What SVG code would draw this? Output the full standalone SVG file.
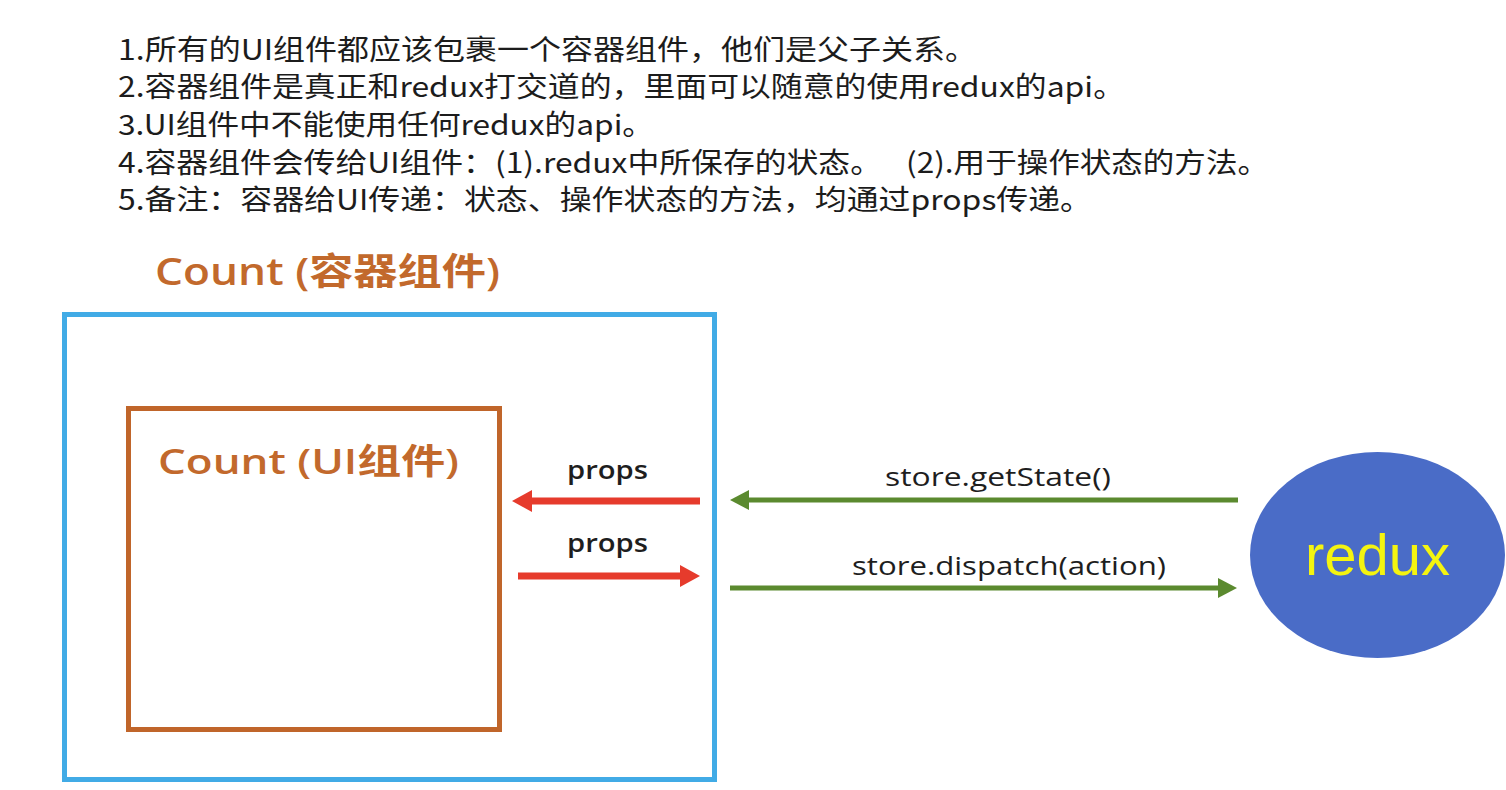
<svg xmlns="http://www.w3.org/2000/svg" width="1506" height="790" viewBox="0 0 1506 790">
<defs>
<style>
.note{font-family:"Noto Sans CJK SC","Liberation Sans",sans-serif;font-size:28px;fill:#1c1c1c;}
.title{font-family:"Open Sans","Noto Sans CJK SC",sans-serif;font-weight:600;fill:#C2692C;}
.lbl{font-family:"Open Sans","Noto Sans CJK SC",sans-serif;font-size:26px;fill:#1e1e1e;}
.red{stroke:#E63B2C;stroke-width:7;fill:none;}
.green{stroke:#5B8A2F;stroke-width:5;fill:none;}
</style>
<marker id="headRed" markerUnits="userSpaceOnUse" markerWidth="20" markerHeight="22" refX="0" refY="11" orient="auto">
<path d="M0,0 L20,11 L0,22 z" fill="#E63B2C"/>
</marker>
<marker id="headGreen" markerUnits="userSpaceOnUse" markerWidth="19" markerHeight="20" refX="0" refY="10" orient="auto">
<path d="M0,0 L19,10 L0,20 z" fill="#5B8A2F"/>
</marker>
</defs>
<rect width="1506" height="790" fill="#ffffff"/>

<g id="notes">
<text class="note" x="118" y="60" textLength="859" lengthAdjust="spacingAndGlyphs">1.所有的UI组件都应该包裹一个容器组件，他们是父子关系。</text>
<text class="note" x="118" y="97" textLength="1007" lengthAdjust="spacingAndGlyphs">2.容器组件是真正和redux打交道的，里面可以随意的使用redux的api。</text>
<text class="note" x="118" y="135" textLength="536" lengthAdjust="spacingAndGlyphs">3.UI组件中不能使用任何redux的api。</text>
<text class="note" x="118" y="173" textLength="764" lengthAdjust="spacingAndGlyphs">4.容器组件会传给UI组件：(1).redux中所保存的状态。</text>
<text class="note" x="906" y="173" textLength="363" lengthAdjust="spacingAndGlyphs">(2).用于操作状态的方法。</text>
<text class="note" x="118" y="210" textLength="974" lengthAdjust="spacingAndGlyphs">5.备注：容器给UI传递：状态、操作状态的方法，均通过props传递。</text>
</g>

<g id="container">
<text class="title" x="155" y="285" font-size="37" textLength="345" lengthAdjust="spacingAndGlyphs">Count (容器组件)</text>
<rect x="64.5" y="314.5" width="650" height="465" fill="none" stroke="#41ABE6" stroke-width="5"/>
</g>

<g id="ui-component">
<rect x="128.5" y="408.5" width="371" height="321" fill="none" stroke="#C0652A" stroke-width="5"/>
<text class="title" x="158" y="474" font-size="35" textLength="301" lengthAdjust="spacingAndGlyphs">Count (UI组件)</text>
</g>

<g id="redux">
<ellipse cx="1377.5" cy="555" rx="127.5" ry="103" fill="#4A6CC7"/>
<text x="1377.5" y="575" text-anchor="middle" font-family="Liberation Sans, Arial, sans-serif" font-size="58" fill="#F4F410">redux</text>
</g>

<g id="connectors">
<line class="red" x1="700" y1="501" x2="532" y2="501" marker-end="url(#headRed)"/>
<line class="red" x1="518" y1="576" x2="680" y2="576" marker-end="url(#headRed)"/>
<line class="green" x1="1238" y1="500" x2="749" y2="500" marker-end="url(#headGreen)"/>
<line class="green" x1="730" y1="588" x2="1218" y2="588" marker-end="url(#headGreen)"/>
<text class="lbl" x="567" y="479" font-weight="600" textLength="81" lengthAdjust="spacingAndGlyphs">props</text>
<text class="lbl" x="567" y="552" font-weight="600" textLength="81" lengthAdjust="spacingAndGlyphs">props</text>
<text class="lbl" x="885" y="486" font-weight="500" textLength="226" lengthAdjust="spacingAndGlyphs">store.getState()</text>
<text class="lbl" x="852" y="575" font-weight="500" textLength="314" lengthAdjust="spacingAndGlyphs">store.dispatch(action)</text>
</g>
</svg>
